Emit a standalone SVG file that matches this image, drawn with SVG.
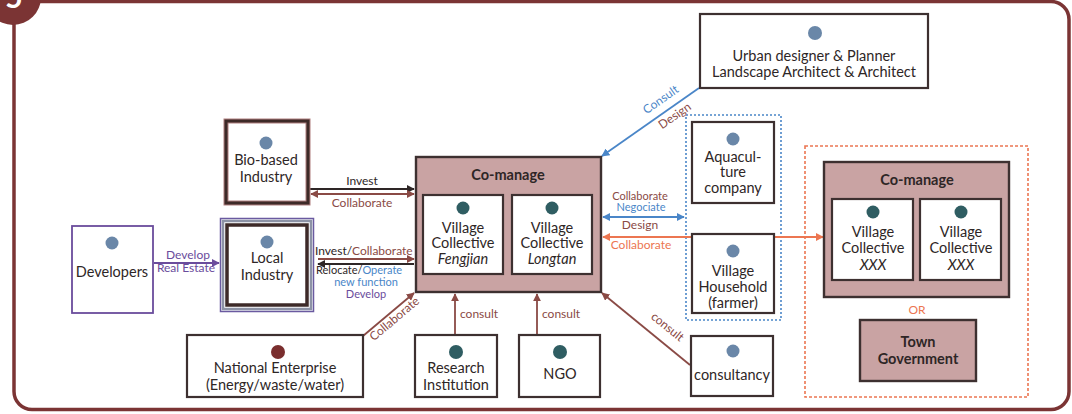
<svg xmlns="http://www.w3.org/2000/svg" width="1072" height="414" viewBox="0 0 1072 414">
  <style>
    text { font-family: Lato, "Open Sans", "Liberation Sans", sans-serif; fill: #2e2626; }
    .t { font-size: 14.5px; text-anchor: middle; }
    .b { font-weight: bold; }
    .i { font-style: italic; }
    .lbl { font-size: 12px; }
    .sm { font-size: 11px; }
    .node { fill: #ffffff; stroke: #3d3030; stroke-width: 2.2; }
    .pink { fill: #c9a3a3; stroke: #3d3030; stroke-width: 2.4; }
    .dot-grey { fill: #6a87a8; }
    .dot-teal { fill: #2f5d62; }
    .brown { stroke: #8a4a45; }
    .blue { stroke: #4a86c8; }
    .orange { stroke: #ec7651; }
    .purple { stroke: #6a4c9c; }
    .black { stroke: #2e2626; }
    .ln { fill: none; stroke-width: 1.8; }
  </style>
  <defs>
    <marker id="ah-brown" viewBox="0 0 10 10" refX="9" refY="5" markerWidth="4.5" markerHeight="4.5" orient="auto-start-reverse"><path d="M0,0 L10,5 L0,10 z" fill="#8a4a45"/></marker>
    <marker id="ah-blue" viewBox="0 0 10 10" refX="9" refY="5" markerWidth="4.5" markerHeight="4.5" orient="auto-start-reverse"><path d="M0,0 L10,5 L0,10 z" fill="#4a86c8"/></marker>
    <marker id="ah-orange" viewBox="0 0 10 10" refX="9" refY="5" markerWidth="4.5" markerHeight="4.5" orient="auto-start-reverse"><path d="M0,0 L10,5 L0,10 z" fill="#ec7651"/></marker>
    <marker id="ah-purple" viewBox="0 0 10 10" refX="9" refY="5" markerWidth="4.5" markerHeight="4.5" orient="auto-start-reverse"><path d="M0,0 L10,5 L0,10 z" fill="#6a4c9c"/></marker>
    <marker id="ah-black" viewBox="0 0 10 10" refX="9" refY="5" markerWidth="4.5" markerHeight="4.5" orient="auto-start-reverse"><path d="M0,0 L10,5 L0,10 z" fill="#2e2626"/></marker>
  </defs>

  <!-- panel frame and number badge -->
  <g id="frame">
    <rect x="14" y="1.5" width="1055" height="408" rx="18" fill="#ffffff" stroke="#7b3434" stroke-width="3.5"/>
    <circle cx="13" cy="-3" r="28" fill="#7b3434"/>
    <text x="14" y="8" font-size="30" font-weight="bold" text-anchor="middle" style="fill:#ffffff">5</text>
  </g>

  <!-- group boundaries -->
  <rect id="partner-group" x="686" y="115" width="95" height="205" fill="none" stroke="#4a86c8" stroke-width="1.6" stroke-dasharray="2,2"/>
  <rect id="alt-group" x="805" y="146" width="223" height="251" fill="none" stroke="#ec7651" stroke-width="1.6" stroke-dasharray="3,2"/>

  <!-- connectors -->
  <g id="connectors">
    <!-- Bio-based industry -->
    <line class="ln black" x1="309" y1="189" x2="414" y2="189" marker-end="url(#ah-black)"/>
    <line class="ln brown" x1="311" y1="194" x2="414" y2="194" marker-start="url(#ah-brown)" marker-end="url(#ah-brown)"/>
    <text class="lbl" x="362" y="185" text-anchor="middle">Invest</text>
    <text class="lbl" x="362" y="207" text-anchor="middle" style="fill:#8a4a45">Collaborate</text>
    <!-- Local industry -->
    <line class="ln brown" x1="318" y1="259" x2="414" y2="259" marker-end="url(#ah-brown)"/>
    <line class="ln black" x1="318" y1="264" x2="414" y2="264" marker-start="url(#ah-black)"/>
    <text class="lbl" x="315" y="255">Invest/<tspan style="fill:#8a4a45">Collaborate</tspan></text>
    <text class="sm" x="316" y="274">Relocate/<tspan style="fill:#4a86c8">Operate</tspan></text>
    <text class="sm" x="366" y="286" text-anchor="middle" style="fill:#4a86c8">new function</text>
    <text class="sm" x="366" y="298" text-anchor="middle" style="fill:#6a4c9c">Develop</text>
    <!-- Developers -->
    <line class="ln purple" x1="154" y1="263" x2="219" y2="263" marker-end="url(#ah-purple)"/>
    <text class="lbl" x="188" y="259" text-anchor="middle" style="fill:#6a4c9c">Develop</text>
    <text class="lbl" x="186" y="272" text-anchor="middle" style="fill:#6a4c9c">Real Estate</text>
    <!-- National enterprise -->
    <line class="ln brown" x1="363" y1="336" x2="414" y2="293" marker-end="url(#ah-brown)"/>
    <text class="lbl" transform="translate(397,322) rotate(-40)" text-anchor="middle" style="fill:#8a4a45">Collaborate</text>
    <!-- Research and NGO -->
    <line class="ln brown" x1="455" y1="335" x2="455" y2="294" marker-end="url(#ah-brown)"/>
    <text class="lbl" x="460" y="318" style="fill:#8a4a45">consult</text>
    <line class="ln brown" x1="537" y1="335" x2="537" y2="294" marker-end="url(#ah-brown)"/>
    <text class="lbl" x="542" y="318" style="fill:#8a4a45">consult</text>
    <!-- consultancy -->
    <line class="ln brown" x1="690" y1="365" x2="602" y2="293" marker-end="url(#ah-brown)"/>
    <text class="lbl" transform="translate(665,330) rotate(39)" text-anchor="middle" style="fill:#8a4a45">consult</text>
    <!-- Designers -->
    <line class="ln blue" x1="699" y1="88" x2="602" y2="156" marker-end="url(#ah-blue)"/>
    <text class="lbl" transform="translate(663,103) rotate(-35)" text-anchor="middle" style="fill:#4a86c8">Consult</text>
    <text class="lbl" transform="translate(677,119) rotate(-35)" text-anchor="middle" style="fill:#8a4a45">Design</text>
    <!-- Partner group -->
    <line class="ln blue" x1="603" y1="217" x2="684" y2="217" marker-start="url(#ah-blue)" marker-end="url(#ah-blue)"/>
    <text class="sm" x="640" y="200" text-anchor="middle" style="fill:#8a4a45">Collaborate</text>
    <text class="sm" x="641" y="211" text-anchor="middle" style="fill:#4a86c8">Negociate</text>
    <text class="lbl" x="640" y="229" text-anchor="middle" style="fill:#8a4a45">Design</text>
    <!-- Other villages -->
    <line class="ln orange" x1="603" y1="237" x2="823" y2="237" marker-start="url(#ah-orange)" marker-end="url(#ah-orange)"/>
    <text class="lbl" x="641" y="249" text-anchor="middle" style="fill:#ec7651">Collaborate</text>
  </g>

  <!-- nodes -->
  <g id="bio-based-industry">
    <rect x="226" y="121" width="82" height="82" fill="#ffffff" stroke="#b07f7f" stroke-width="5"/>
    <rect x="226" y="121" width="82" height="82" fill="none" stroke="#3d2a28" stroke-width="3"/>
    <circle class="dot-grey" cx="266" cy="143" r="6.5"/>
    <text class="t" x="266" y="165">Bio-based</text>
    <text class="t" x="266" y="182">Industry</text>
  </g>

  <g id="local-industry">
    <rect x="220.5" y="218.5" width="93" height="93" fill="#ffffff" stroke="#6a5aa0" stroke-width="1.5"/>
    <rect x="223" y="221" width="88" height="88" fill="none" stroke="#8d93a6" stroke-width="2.5"/>
    <rect x="227" y="225" width="80" height="80" fill="none" stroke="#3d2a28" stroke-width="3.5"/>
    <circle class="dot-grey" cx="267" cy="242" r="6.5"/>
    <text class="t" x="267" y="263">Local</text>
    <text class="t" x="267" y="280">Industry</text>
  </g>

  <g id="developers">
    <rect x="72" y="226" width="81" height="87" fill="#ffffff" stroke="#6a4c9c" stroke-width="1.8"/>
    <circle class="dot-grey" cx="112" cy="243" r="6.5"/>
    <text class="t" x="112" y="277">Developers</text>
  </g>

  <g id="co-manage">
    <rect class="pink" x="416" y="157" width="185" height="135"/>
    <text class="t b" x="508" y="180" font-size="15.5">Co-manage</text>
    <g id="village-fengjian">
      <rect class="node" x="423" y="195" width="80" height="79"/>
      <circle class="dot-teal" cx="463" cy="208" r="6.5"/>
      <text class="t" x="463" y="233">Village</text>
      <text class="t" x="463" y="248">Collective</text>
      <text class="t i" x="463" y="264">Fengjian</text>
    </g>
    <g id="village-longtan">
      <rect class="node" x="512" y="195" width="80" height="79"/>
      <circle class="dot-teal" cx="552" cy="208" r="6.5"/>
      <text class="t" x="552" y="233">Village</text>
      <text class="t" x="552" y="248">Collective</text>
      <text class="t i" x="552" y="264">Longtan</text>
    </g>
  </g>

  <g id="urban-designer">
    <rect class="node" x="700" y="14" width="228" height="74"/>
    <circle class="dot-grey" cx="815" cy="33" r="7"/>
    <text class="t" x="814" y="61">Urban designer &amp; Planner</text>
    <text class="t" x="814" y="77">Landscape Architect &amp; Architect</text>
  </g>

  <g id="aquaculture-company">
    <rect class="node" x="692" y="122" width="82" height="81"/>
    <circle class="dot-grey" cx="733" cy="139" r="6.5"/>
    <text class="t" x="733" y="162">Aquacul-</text>
    <text class="t" x="733" y="177">ture</text>
    <text class="t" x="733" y="193">company</text>
  </g>

  <g id="village-household">
    <rect class="node" x="692" y="234" width="82" height="79"/>
    <circle class="dot-grey" cx="733" cy="251" r="6.5"/>
    <text class="t" x="733" y="276">Village</text>
    <text class="t" x="733" y="292">Household</text>
    <text class="t" x="733" y="308">(farmer)</text>
  </g>

  <g id="consultancy">
    <rect class="node" x="691" y="336" width="82" height="60"/>
    <circle class="dot-grey" cx="733" cy="351" r="6.5"/>
    <text class="t" x="732" y="380">consultancy</text>
  </g>

  <g id="national-enterprise">
    <rect class="node" x="187" y="335" width="176" height="62"/>
    <circle cx="278" cy="352" r="7" fill="#7a2e2e"/>
    <text class="t" x="275" y="373">National Enterprise</text>
    <text class="t" x="275" y="390">(Energy/waste/water)</text>
  </g>

  <g id="research-institution">
    <rect class="node" x="415" y="335" width="82" height="62"/>
    <circle class="dot-teal" cx="456" cy="352" r="7"/>
    <text class="t" x="456" y="373">Research</text>
    <text class="t" x="456" y="390">Institution</text>
  </g>

  <g id="ngo">
    <rect class="node" x="519" y="335" width="81" height="62"/>
    <circle class="dot-teal" cx="560" cy="352" r="7"/>
    <text class="t" x="560" y="379">NGO</text>
  </g>

  <g id="co-manage-other">
    <rect class="pink" x="824" y="162" width="185" height="135"/>
    <text class="t b" x="917" y="185" font-size="15.5">Co-manage</text>
    <g id="village-xxx-1">
      <rect class="node" x="832" y="199" width="81" height="81"/>
      <circle class="dot-teal" cx="873" cy="212" r="6.5"/>
      <text class="t" x="873" y="237">Village</text>
      <text class="t" x="873" y="253">Collective</text>
      <text class="t i" x="873" y="270">XXX</text>
    </g>
    <g id="village-xxx-2">
      <rect class="node" x="920" y="199" width="81" height="81"/>
      <circle class="dot-teal" cx="961" cy="212" r="6.5"/>
      <text class="t" x="961" y="237">Village</text>
      <text class="t" x="961" y="253">Collective</text>
      <text class="t i" x="961" y="270">XXX</text>
    </g>
  </g>

  <text x="917" y="314" font-size="12" text-anchor="middle" style="fill:#ec7651">OR</text>

  <g id="town-government">
    <rect class="pink" x="860" y="320" width="116" height="61"/>
    <text class="t b" x="918" y="347">Town</text>
    <text class="t b" x="918" y="364">Government</text>
  </g>
</svg>
